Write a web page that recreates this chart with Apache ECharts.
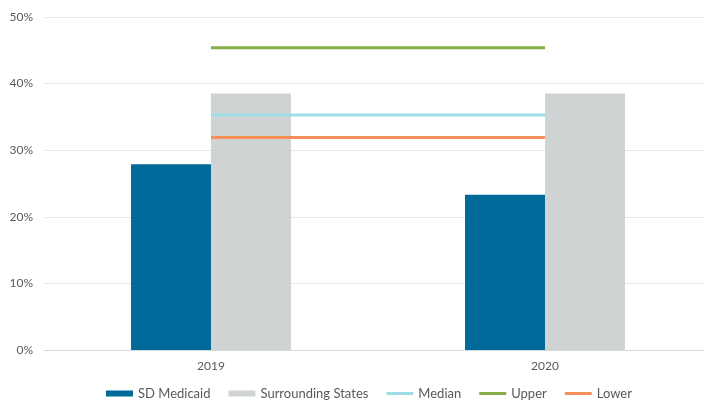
<!DOCTYPE html>
<html lang="en">
<head>
    <meta charset="UTF-8">
    <title>SD Medicaid vs Surrounding States</title>
    <script src="https://cdn.jsdelivr.net/npm/echarts@6/dist/echarts.min.js"></script>
    <style>
        html, body { margin: 0; padding: 0; background: #fff; }
    </style>
</head>
<body>
<div id="main" style="width: 704px; height: 402px;"></div>
<script type="text/javascript">
    // data (percent)
    var years = ['2019', '2020'];
    var sdMedicaid = [27.9, 23.3];
    var surrounding = [38.5, 38.5];
    var median = [35.3, 35.3];
    var upper = [45.4, 45.4];
    var lower = [31.9, 31.9];

    var myChart = echarts.init(document.getElementById('main'));
    var font = 'Lato, "Open Sans", sans-serif';
    // thin bar icon for the line entries (invisible slivers keep the 27x6 box)
    var lineIcon = 'path://M0,0L27,0L27,0.01Z M0,1.5H27V4.5H0Z M0,6L27,6L27,5.99Z';
    var lineSeries = function (name, data, color) {
        return {
            name: name,
            type: 'line',
            data: data,
            symbol: 'none',
            z: 5,
            lineStyle: {color: color, width: 3},
            itemStyle: {color: color}
        };
    };

    var option = {
        animation: false,
        textStyle: {fontFamily: font},
        grid: {left: 44, top: 17, width: 668, bottom: 52, outerBoundsMode: 'none'},
        legend: {
            top: 382,
            left: 101,
            itemWidth: 27,
            itemHeight: 6,
            itemGap: 18,
            textStyle: {color: '#595959', fontSize: 13, fontFamily: font},
            data: [
                {name: 'SD Medicaid', icon: 'rect'},
                {name: 'Surrounding States', icon: 'rect'},
                {name: 'Median', icon: lineIcon},
                {name: 'Upper', icon: lineIcon},
                {name: 'Lower', icon: lineIcon}
            ]
        },
        xAxis: {
            type: 'category',
            data: years,
            axisTick: {show: false},
            axisLine: {lineStyle: {color: '#d9d9d9'}},
            axisLabel: {color: '#595959', fontSize: 12, margin: 10}
        },
        yAxis: {
            type: 'value',
            min: 0,
            max: 50,
            interval: 10,
            axisLabel: {formatter: '{value}%', color: '#595959', fontSize: 12, margin: 11},
            splitLine: {lineStyle: {color: '#e6e6e6'}}
        },
        series: [
            {
                name: 'SD Medicaid',
                type: 'bar',
                data: sdMedicaid,
                barWidth: 80,
                barGap: 0,
                itemStyle: {color: '#006a9a'}
            },
            {
                name: 'Surrounding States',
                type: 'bar',
                data: surrounding,
                barWidth: 80,
                barGap: 0,
                itemStyle: {color: '#d0d3d4'}
            },
            lineSeries('Median', median, '#9ddde8'),
            lineSeries('Upper', upper, '#86b047'),
            lineSeries('Lower', lower, '#f79058')
        ]
    };
    myChart.setOption(option);
</script>
</body>
</html>
